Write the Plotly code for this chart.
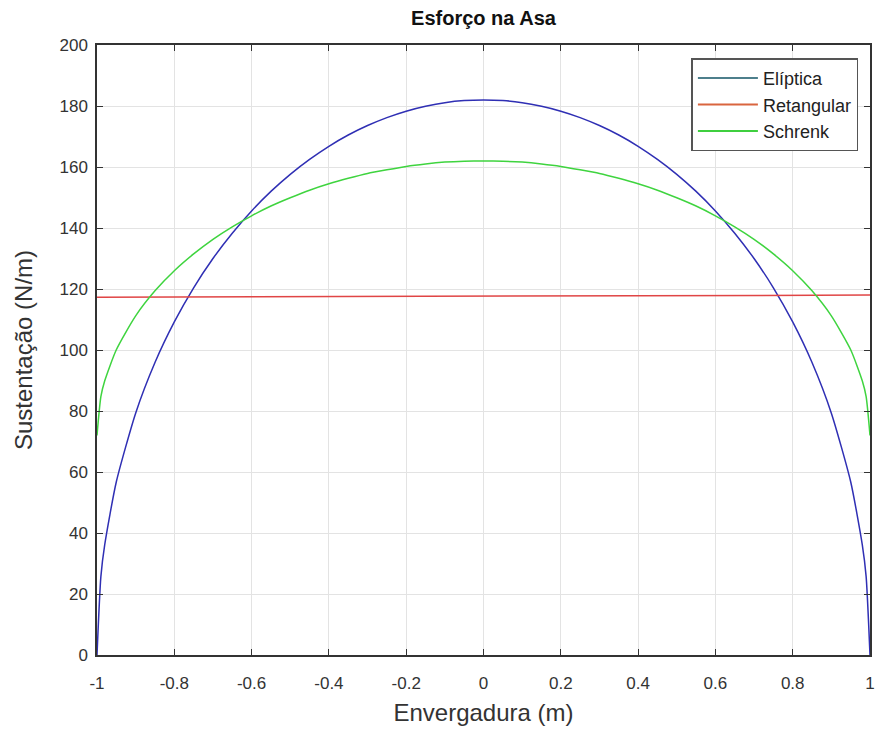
import plotly.graph_objects as go

envergadura = [-1.0, -0.99, -0.98, -0.95, -0.9, -0.85, -0.8, -0.75, -0.7, -0.65, -0.6, -0.55, -0.5,
               -0.45, -0.4, -0.35, -0.3, -0.25, -0.2, -0.15, -0.1, -0.05, 0.0,
               0.05, 0.1, 0.15, 0.2, 0.25, 0.3, 0.35, 0.4, 0.45, 0.5, 0.55, 0.6, 0.65, 0.7,
               0.75, 0.8, 0.85, 0.9, 0.95, 0.98, 0.99, 1.0]

eliptica = [0.0, 25.7, 36.2, 56.8, 79.3, 95.9, 109.2, 120.4, 130.0, 138.3, 145.6, 152.0, 157.6,
            162.5, 166.8, 170.5, 173.6, 176.2, 178.3, 179.9, 181.1, 181.8, 182.0,
            181.8, 181.1, 179.9, 178.3, 176.2, 173.6, 170.5, 166.8, 162.5, 157.6, 152.0, 145.6, 138.3, 130.0,
            120.4, 109.2, 95.9, 79.3, 56.8, 36.2, 25.7, 0.0]

schrenk = [72.0, 84.7, 89.9, 100.1, 111.2, 119.4, 126.0, 131.5, 136.3, 140.4, 144.0, 147.2, 149.9,
           152.4, 154.5, 156.3, 157.9, 159.1, 160.2, 161.0, 161.6, 161.9, 162.0,
           161.9, 161.6, 161.0, 160.2, 159.1, 157.9, 156.3, 154.5, 152.4, 149.9, 147.2, 144.0, 140.4, 136.3,
           131.5, 126.0, 119.4, 111.2, 100.1, 89.9, 84.7, 72.0]

ret_x = [-1.0, -0.5, 0.0, 0.5, 1.0]
retangular = [117.3, 117.5, 117.6, 117.8, 118.0]

series_names = ["Elíptica", "Retangular", "Schrenk"]
legend_colors = ["#4d7f8c", "#d9653f", "#3fcf3f"]

FONT = "Liberation Sans, Arial, sans-serif"

fig = go.Figure()
fig.add_trace(go.Scatter(x=envergadura, y=eliptica, mode="lines", line_shape="spline",
                         line=dict(color="#2f2fb4", width=1.5, smoothing=0.6), showlegend=False))
fig.add_trace(go.Scatter(x=ret_x, y=retangular, mode="lines",
                         line=dict(color="#e04545", width=1.5), showlegend=False))
fig.add_trace(go.Scatter(x=envergadura, y=schrenk, mode="lines", line_shape="spline",
                         line=dict(color="#3fd43f", width=1.5, smoothing=0.6), showlegend=False))
for name, col in zip(series_names, legend_colors):
    fig.add_trace(go.Scatter(x=[None], y=[None], mode="lines", name=name,
                             line=dict(color=col, width=2)))

axis_common = dict(
    showgrid=True, gridcolor="#e3e3e3", gridwidth=1,
    showline=True, linecolor="#333333", linewidth=1.5, mirror="allticks",
    ticks="inside", ticklen=6, tickcolor="#333333",
    zeroline=False, tickfont=dict(family=FONT, size=17, color="#333333"),
)

fig.update_xaxes(range=[-1, 1], tickmode="array",
                 tickvals=[-1, -0.8, -0.6, -0.4, -0.2, 0, 0.2, 0.4, 0.6, 0.8, 1],
                 ticktext=["-1", "-0.8", "-0.6", "-0.4", "-0.2", "0", "0.2", "0.4", "0.6", "0.8", "1"],
                 ticklabelstandoff=12,
                 title=dict(text="Envergadura (m)", font=dict(family=FONT, size=24, color="#333333"),
                            standoff=12),
                 **axis_common)
fig.update_yaxes(range=[0, 200], tickmode="array",
                 tickvals=list(range(0, 201, 20)),
                 ticklabelstandoff=4,
                 title=dict(text="Sustentação (N/m)", font=dict(family=FONT, size=24, color="#333333"),
                            standoff=20),
                 **axis_common)

fig.update_layout(
    width=876, height=738,
    margin=dict(l=97, r=6, t=45, b=83, autoexpand=False),
    paper_bgcolor="white", plot_bgcolor="white",
    title=dict(text="<b>Esforço na Asa</b>", x=0.5, xanchor="center", xref="paper",
               y=1 - 18 / 738, yanchor="middle",
               font=dict(family=FONT, size=20, color="#111111")),
    legend=dict(x=0.985, y=0.978, xanchor="right", yanchor="top",
                bgcolor="white", bordercolor="#555555", borderwidth=1.5,
                font=dict(family=FONT, size=18, color="#222222"),
                tracegroupgap=0, itemwidth=60),
    showlegend=True,
)

fig.write_html("out.html", config={"displayModeBar": False},
               post_script="document.body.style.margin='0';document.body.style.overflow='hidden';")
